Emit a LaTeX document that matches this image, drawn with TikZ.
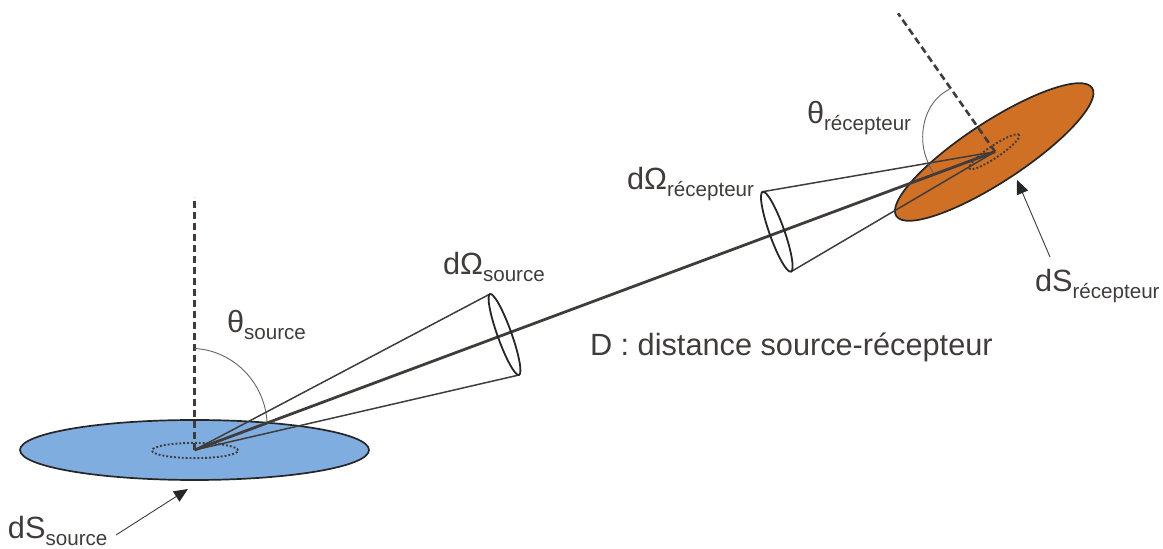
\documentclass[tikz,border=0pt]{standalone}
\usepackage{fontspec}
\setmainfont{Liberation Sans}
\usetikzlibrary{arrows.meta}
\definecolor{ink}{HTML}{403C3C}
\definecolor{discblue}{HTML}{7FADE0}
\definecolor{discorange}{HTML}{D07024}
\newcommand{\lab}[2]{\fontsize{30.7}{30.7}\selectfont #1\raisebox{-6.5pt}{\fontsize{20.6}{20.6}\selectfont #2}}
\tikzset{
  txt/.style={anchor=base west,inner sep=0pt,outer sep=0pt,text=ink},
  disc/.style={draw=black!85,line width=1.7pt},
  spot/.style={draw=ink,line width=1.9pt,dash pattern=on 1.9pt off 2pt},
  rim/.style={draw=black!85,line width=1.8pt},
  ray/.style={draw=ink,line width=1.5pt},
  axis/.style={draw=ink,line width=2.8pt},
  normal/.style={draw=ink,line width=2.6pt,dash pattern=on 7pt off 4pt},
  anglearc/.style={draw=ink!80,line width=0.9pt},
  pointer/.style={draw=ink,line width=0.9pt,-{Stealth[length=14pt,width=12pt,inset=0pt,color=black!85]}}
}
\begin{document}
\begin{tikzpicture}[x=1pt,y=1pt]
\useasboundingbox (0,0) rectangle (1163,549);
% key points
\coordinate (A) at (194.5,99);
\coordinate (B) at (995,397.3);
\coordinate (nA) at (194.5,352);
\coordinate (nB) at (898,535.7);
\coordinate (sT) at (490,255);
\coordinate (sB) at (519,174);
\coordinate (rT) at (762.7,357.3);
\coordinate (rB) at (791,277.3);
\coordinate (pS0) at (116,14);
\coordinate (pS1) at (188,60);
\coordinate (pR0) at (1050,292);
\coordinate (pR1) at (1017,369);
% discs
\draw[disc,fill=discblue] (194.5,99) ellipse [x radius=174.5,y radius=30];
\draw[spot] (195,98.5) ellipse [x radius=43,y radius=7.6];
\draw[disc,fill=discorange,rotate around={33.2:(994.2,397)}] (994.2,397) ellipse [x radius=117,y radius=30];
\draw[spot,rotate around={34:(994.3,397.3)}] (994.3,397.3) ellipse [x radius=30,y radius=6];
% normals
\draw[normal] (A) -- (nA);
\draw[normal] (B) -- (nB);
% angle arcs
\draw[anglearc] (195,200.5) .. controls (235,198) and (265,165) .. (267,127);
\draw[anglearc] (949.3,459.7) .. controls (928,449) and (921,425) .. (923,405) .. controls (924,394) and (929,383) .. (934,375);
% cones
\draw[ray] (A) -- (sT);
\draw[ray] (A) -- (sB);
\draw[ray] (B) -- (rT);
\draw[ray] (B) -- (rB);
\draw[axis] (A) -- (B);
\draw[rim,rotate around={109.7:(504.5,214.5)}] (504.5,214.5) ellipse [x radius=43,y radius=7];
\draw[rim,rotate around={109.5:(776.8,317.3)}] (776.8,317.3) ellipse [x radius=42.4,y radius=7.5];
% pointers
\draw[pointer] (pS0) -- (pS1);
\draw[pointer] (pR0) -- (pR1);
% labels
\node[txt] (tS) at (227,216) {\lab{θ}{source}};
\node[txt] (oS) at (443,274) {\lab{dΩ}{source}};
\node[txt] (dS) at (8,10) {\lab{dS}{source}};
\node[txt] (oR) at (627,359) {\lab{dΩ}{récepteur}};
\node[txt] (tR) at (807,425) {\lab{θ}{récepteur}};
\node[txt] (dR) at (1035,257) {\lab{dS}{récepteur}};
\node[txt] (D) at (590,193) {\fontsize{30.7}{30.7}\selectfont D : distance source-récepteur};
\end{tikzpicture}
\end{document}
